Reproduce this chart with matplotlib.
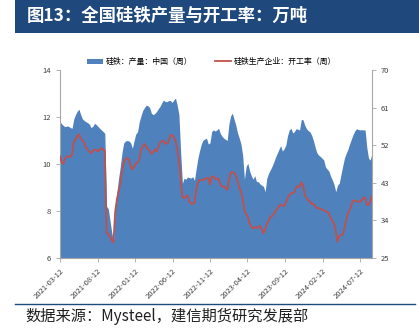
import numpy as np
import pandas as pd
import matplotlib
matplotlib.use('Agg')
from matplotlib import pyplot as plt
from matplotlib.patches import Rectangle, Patch
from matplotlib.lines import Line2D

plt.rcParams['font.family'] = ['Noto Sans CJK SC', 'DejaVu Sans']

# 周度数据 2021-03-12 起
dates = pd.date_range('2021-03-12', periods=182, freq='7D')

output = [
    11.80, 11.70, 11.63, 11.59, 11.62, 11.60, 11.55, 11.52, 11.92, 12.10,
    12.25, 12.33, 12.10, 11.92, 11.85, 11.80, 11.76, 11.70, 11.55, 11.60,
    11.73, 11.68, 11.60, 11.52, 11.45, 11.38, 11.30, 8.20, 8.10, 7.60,
    7.10, 6.70, 8.10, 8.80, 9.40, 9.90, 10.50, 10.90, 10.98, 11.00,
    10.98, 10.90, 10.67, 11.00, 11.28, 11.37, 11.80, 12.05, 12.28, 12.40,
    12.50, 12.48, 12.40, 12.16, 12.10, 12.15, 12.23, 12.35, 12.45, 12.60,
    12.72, 12.66, 12.65, 12.70, 12.70, 12.62, 12.72, 12.80, 12.50, 12.10,
    10.50, 9.18, 9.40, 9.35, 9.45, 9.42, 9.40, 9.46, 9.30, 9.80,
    10.25, 10.58, 10.85, 11.02, 11.06, 11.10, 10.85, 10.90, 11.38, 11.45,
    11.40, 11.45, 11.52, 11.30, 11.18, 11.10, 11.05, 11.00, 11.70, 12.05,
    12.16, 11.90, 11.65, 11.32, 11.10, 10.85, 10.35, 9.35, 9.90, 10.03,
    9.70, 9.50, 9.35, 9.50, 9.25, 9.25, 9.15, 9.10, 9.05, 8.82,
    9.40, 9.60, 9.75, 9.90, 10.08, 10.28, 10.45, 10.62, 10.78, 10.55,
    10.65, 10.80, 11.20, 11.45, 11.52, 11.32, 11.38, 11.50, 11.48, 11.45,
    11.90, 11.88, 11.65, 11.50, 11.42, 11.37, 11.22, 11.00, 10.72, 10.48,
    10.38, 10.32, 10.25, 10.17, 9.88, 9.78, 9.70, 9.48, 9.32, 9.12,
    8.82, 9.10, 9.18, 9.55, 9.90, 10.25, 10.45, 10.62, 10.85, 11.05,
    11.25, 11.40, 11.50, 11.47, 11.45, 11.46, 11.45, 11.45, 10.70, 10.24,
    10.17, 10.45,
]

rate = [
    49.4, 47.8, 47.6, 48.9, 49.3, 49.3, 49.2, 49.8, 52.9, 53.3,
    54.2, 54.6, 53.6, 53.2, 52.6, 51.5, 51.0, 50.5, 50.1, 50.6,
    50.9, 50.9, 50.5, 50.9, 51.3, 51.0, 50.6, 31.0, 30.8, 30.0,
    29.3, 28.7, 36.0, 39.0, 41.0, 42.8, 45.8, 47.9, 48.6, 48.9,
    48.5, 47.0, 46.2, 46.8, 47.6, 47.8, 48.5, 51.0, 51.6, 52.3,
    51.6, 51.1, 50.6, 49.9, 50.4, 51.0, 50.5, 51.5, 52.6, 52.9,
    53.1, 52.5, 52.3, 52.8, 54.4, 54.4, 54.0, 53.0, 51.2, 48.3,
    44.0, 39.6, 39.3, 39.7, 40.0, 38.6, 38.0, 38.0, 38.1, 41.3,
    43.0, 43.7, 43.7, 43.7, 43.9, 44.1, 44.2, 42.6, 44.3, 44.6,
    44.0, 43.8, 44.0, 42.6, 42.1, 42.1, 41.8, 41.3, 43.5, 45.4,
    45.6, 45.4, 44.8, 43.4, 41.8, 41.0, 39.0, 36.4, 35.6, 34.8,
    33.3, 32.5, 32.1, 32.4, 32.2, 32.3, 32.7, 32.0, 30.9, 31.8,
    33.3, 33.8, 34.9, 35.0, 35.6, 36.3, 36.7, 37.5, 37.7, 37.6,
    37.4, 38.3, 39.3, 40.0, 40.5, 40.5, 40.7, 41.9, 42.2, 42.0,
    43.1, 42.4, 40.2, 39.3, 38.8, 38.5, 37.9, 38.0, 37.4, 37.0,
    36.9, 36.8, 36.6, 36.4, 36.2, 36.0, 35.7, 34.6, 33.8, 33.3,
    31.4, 28.9, 30.2, 30.5, 30.6, 32.0, 34.0, 35.8, 36.4, 37.6,
    38.7, 38.8, 38.5, 38.5, 38.5, 38.9, 39.3, 39.5, 37.7, 37.7,
    38.5, 39.8,
]

tick_labels = ['2021-03-12', '2021-08-12', '2022-01-12', '2022-06-12', '2022-11-12',
               '2023-04-12', '2023-09-12', '2024-02-12', '2024-07-12']
left_ticks = [6, 8, 10, 12, 14]
right_ticks = [25, 34, 43, 52, 61, 70]

title = '图13：全国硅铁产量与开工率：万吨'
source = '数据来源：Mysteel，建信期货研究发展部'
label_area = '硅铁：产量：中国（周）'
label_line = '硅铁生产企业：开工率（周）'

blue = '#4F81BD'
red = '#C0504D'
navy = '#1F497D'
grey = '#A6A6A6'

fig = plt.figure(figsize=(4.19, 3.32), dpi=100)
fig.patch.set_facecolor('w')

# 标题栏
fig.patches.append(Rectangle((0.036, 0.9), 0.964, 0.1, transform=fig.transFigure,
                             facecolor=navy, edgecolor='none', zorder=0))
fig.text(0.064, 0.951, title, color='white', fontsize=12.5, fontweight='bold',
         va='center', ha='left')

ax = fig.add_axes([0.1432, 0.2229, 0.7446, 0.5663])
ax.fill_between(dates, 0, output, color=blue, linewidth=0)
ax.set_ylim(6, 14)
ax.set_yticks(left_ticks)
ax.set_xlim(dates[0], dates[-1])
ax.set_xticks(pd.to_datetime(tick_labels))
ax.set_xticklabels(tick_labels, rotation=45, ha='right', rotation_mode='anchor')

ax2 = ax.twinx()
ax2.plot(dates, rate, color=red, linewidth=1.3)
ax2.set_ylim(25, 70)
ax2.set_yticks(right_ticks)

for a in (ax, ax2):
    a.spines['top'].set_visible(False)
    for s in ('left', 'right', 'bottom'):
        a.spines[s].set_color(grey)
        a.spines[s].set_linewidth(0.8)
    a.tick_params(colors=grey, labelcolor='#404040', labelsize=5.5, length=3, width=0.6)
ax.spines['right'].set_visible(False)
ax2.spines['left'].set_visible(False)
ax2.spines['bottom'].set_visible(False)

# 图例
handles = [Patch(facecolor=blue, edgecolor='none'),
           Line2D([], [], color=red, linewidth=1.3)]
fig.legend(handles, [label_area, label_line], loc='center', bbox_to_anchor=(0.505, 0.815),
           ncol=2, frameon=False, fontsize=5.7, handlelength=2.0, handleheight=0.6,
           columnspacing=2.8, handletextpad=0.35)

# 底部来源
fig.add_artist(Line2D([0.036, 0.99], [0.0843, 0.0843], transform=fig.transFigure,
                      color=navy, linewidth=1))
fig.text(0.06, 0.048, source, fontsize=11, style='italic', va='center', ha='left',
         color='#202020')

plt.savefig('out.png', dpi=100)
plt.close('all')
